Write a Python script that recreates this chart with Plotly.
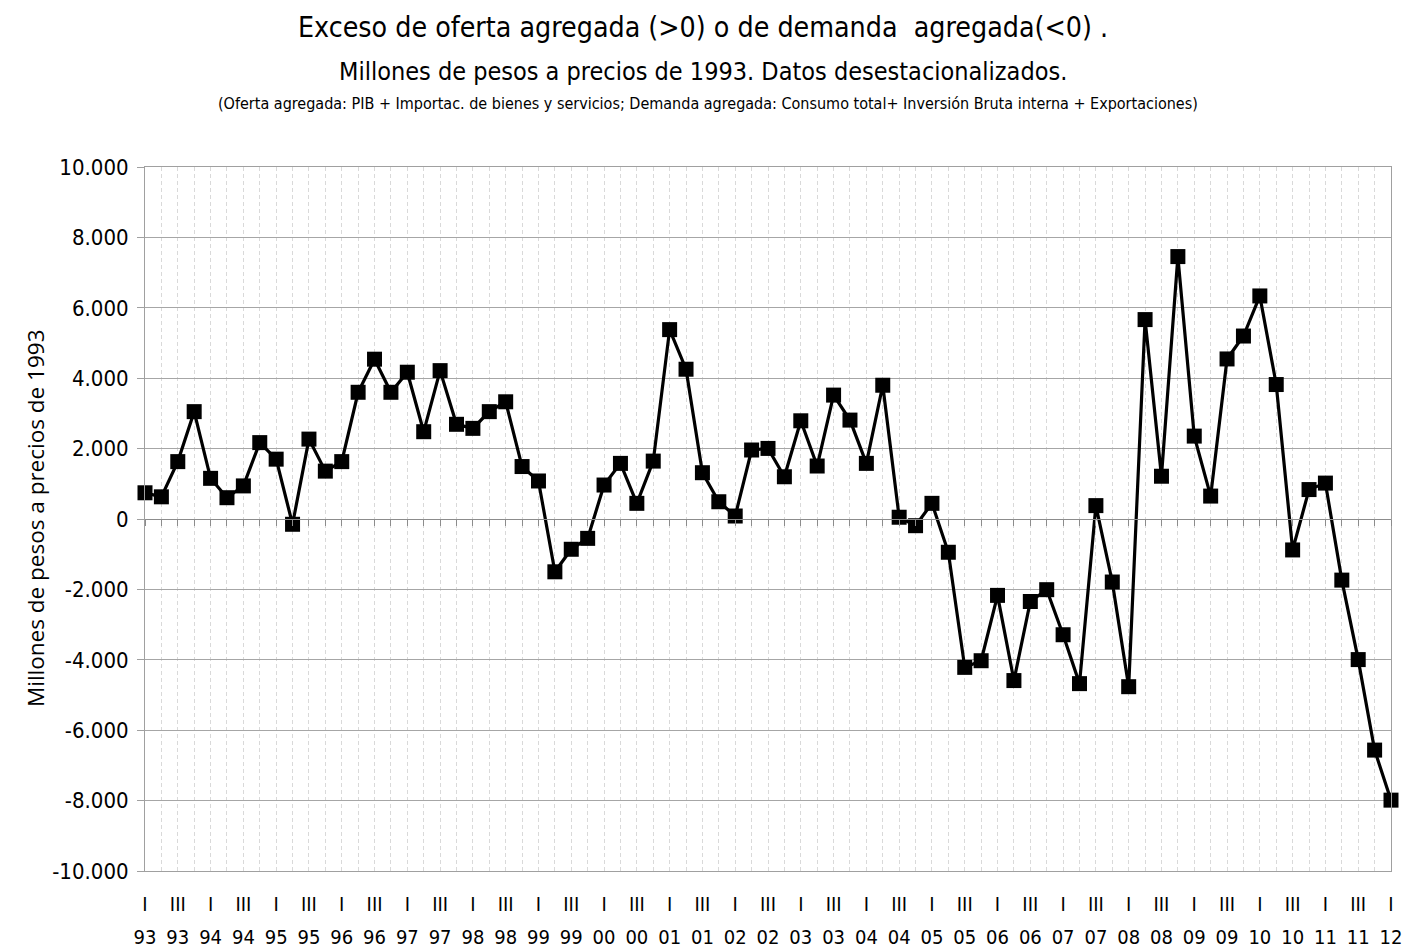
import plotly.graph_objects as go

years = ["93", "94", "95", "96", "97", "98", "99", "00", "01", "02",
         "03", "04", "05", "06", "07", "08", "09", "10", "11", "12"]
quarters = ["I", "II", "III", "IV"]

# Exceso de oferta agregada (millones de pesos de 1993), trimestral 1993.I - 2012.I
values = [
    745, 630, 1630, 3050,        # 1993
    1155, 605, 940, 2170,        # 1994
    1700, -150, 2270, 1360,      # 1995
    1630, 3600, 4540, 3600,      # 1996
    4170, 2480, 4215, 2690,      # 1997
    2575, 3050, 3330, 1490,      # 1998
    1080, -1500, -860, -550,     # 1999
    965, 1580, 445, 1645,        # 2000
    5380, 4255, 1315, 490,       # 2001
    85, 1960, 2005, 1200,        # 2002
    2790, 1505, 3520, 2810,      # 2003
    1580, 3800, 50, -190,        # 2004
    445, -945, -4215, -4026,     # 2005
    -2170, -4590, -2344, -2008,  # 2006
    -3288, -4677, 380, -1790,    # 2007
    -4764, 5665, 1215, 7455,     # 2008
    2355, 651, 4547, 5198,       # 2009
    6337, 3820, -879, 836,       # 2010
    1020, -1736, -3994, -6565,   # 2011
    -7987,                       # 2012
]

ytick_vals = [-10000, -8000, -6000, -4000, -2000, 0, 2000, 4000, 6000, 8000, 10000]
ytick_labels = ["-10.000", "-8.000", "-6.000", "-4.000", "-2.000", "0",
                "2.000", "4.000", "6.000", "8.000", "10.000"]

title_text = "Exceso de oferta agregada (>0) o de demanda  agregada(<0) ."
subtitle_text = "Millones de pesos a precios de 1993. Datos desestacionalizados."
note_text = ("(Oferta agregada: PIB + Importac. de bienes y servicios; Demanda agregada: "
             "Consumo total+ Inversión Bruta interna + Exportaciones)")
ytitle_text = "Millones de pesos a precios de 1993"

n = len(values)
xs = list(range(n))
q_labels = []
y_labels = []
for i in xs:
    q = quarters[i % 4]
    yr = years[i // 4]
    if q in ("I", "III"):
        q_labels.append(q)
        y_labels.append(yr)
    else:
        q_labels.append("")
        y_labels.append("")

NARROW = "Liberation Sans Narrow, DejaVu Sans Condensed, Arial Narrow, sans-serif"
OPEN = "Open Sans, Noto Sans, sans-serif"

# body margin is removed by the post script, so the figure fills the window
W, H = 1406, 949
L, T = 145, 167
R = W - 1391
B = H - 871
PW, PH = W - L - R, H - T - B


def px_x(xp):
    return (xp - L) / PW


def px_y(yp):
    return (H - B - yp) / PH


fig = go.Figure()
fig.add_trace(go.Scatter(
    x=xs, y=values, mode="lines+markers",
    line=dict(color="black", width=3.2),
    marker=dict(symbol="square", size=15, color="black"),
    cliponaxis=False, showlegend=False,
))
# year row (second axis)
fig.add_trace(go.Scatter(x=[0, n - 1], y=[None, None], xaxis="x2", showlegend=False,
                         hoverinfo="skip"))
# zero crossing axis with ticks
fig.add_trace(go.Scatter(x=[0, n - 1], y=[None, None], xaxis="x3", showlegend=False,
                         hoverinfo="skip"))

fig.update_layout(
    width=W, height=H,
    paper_bgcolor="white", plot_bgcolor="white",
    margin=dict(l=L, r=R, t=T, b=B, autoexpand=False),
    font=dict(family=NARROW, color="black"),
    xaxis=dict(
        range=[0, n - 1], tickmode="array", tickvals=xs, ticktext=q_labels,
        showgrid=True, gridcolor="#d9d9d9", griddash="4px,3px", gridwidth=1,
        showline=True, linecolor="#a0a0a0", linewidth=1, mirror=True,
        ticks="", tickfont=dict(family=NARROW, size=20, color="black"),
        ticklabelstandoff=15, zeroline=False, automargin=False,
    ),
    xaxis2=dict(
        overlaying="x", matches="x", anchor="y", side="bottom",
        tickmode="array", tickvals=xs, ticktext=y_labels,
        showgrid=False, showline=False, ticks="", zeroline=False,
        tickfont=dict(family=NARROW, size=20, color="black"),
        ticklabelstandoff=52, automargin=False,
    ),
    xaxis3=dict(
        overlaying="x", matches="x", anchor="free", position=0.5, side="bottom",
        tickmode="array", tickvals=xs, showticklabels=False,
        showgrid=False, showline=True, linecolor="#8c8c8c", linewidth=1,
        ticks="outside", ticklen=6, tickcolor="#8c8c8c", tickwidth=1, zeroline=False,
        automargin=False,
    ),
    yaxis=dict(
        range=[-10000, 10000], tickmode="array", tickvals=ytick_vals, ticktext=ytick_labels,
        showgrid=True, gridcolor="#a6a6a6", gridwidth=1,
        showline=True, linecolor="#a0a0a0", linewidth=1, mirror=True,
        ticks="outside", ticklen=7, tickcolor="#a0a0a0",
        tickfont=dict(family=NARROW, size=22, color="black"),
        ticklabelstandoff=4, zeroline=False, automargin=False,
    ),
    annotations=[
        dict(text=title_text, xref="paper", yref="paper",
             x=px_x(703), y=px_y(28), xanchor="center", yanchor="middle",
             showarrow=False, font=dict(family=NARROW, size=28.3, color="black")),
        dict(text=subtitle_text, xref="paper", yref="paper",
             x=px_x(703), y=px_y(72), xanchor="center", yanchor="middle",
             showarrow=False, font=dict(family=NARROW, size=25, color="black")),
        dict(text=note_text, xref="paper", yref="paper",
             x=px_x(708), y=px_y(103), xanchor="center", yanchor="middle",
             showarrow=False, font=dict(family=NARROW, size=16, color="black")),
        dict(text=ytitle_text, xref="paper", yref="paper",
             x=px_x(35), y=px_y(518), xanchor="center", yanchor="middle",
             textangle=-90, showarrow=False,
             font=dict(family=OPEN, size=22.5, color="black")),
    ],
)

fig.write_html(
    "out.html",
    config={"displayModeBar": False},
    post_script="document.body.style.margin='0';document.body.style.overflow='hidden';",
)
